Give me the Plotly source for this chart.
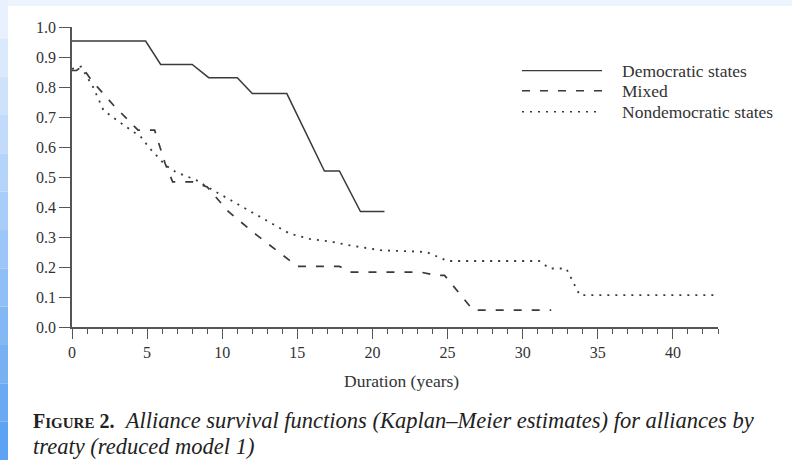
import plotly.graph_objects as go

# ---- data ----
dem_t = [0, 4.9, 5.9, 8.0, 9.1, 11.0, 12.0, 14.3, 16.8, 17.8, 19.2, 20.8]
dem_s = [0.953, 0.953, 0.875, 0.875, 0.831, 0.831, 0.778, 0.778, 0.52, 0.52, 0.385, 0.385]

mix_t = [0, 0.3, 0.65, 1.3, 2.75, 4.4, 5.5, 6.2, 6.7, 8.0, 9.0, 10.4, 12.3, 15.0, 17.8, 18.5, 23.2, 24.3, 24.8, 26.7, 31.9]
mix_s = [0.855, 0.855, 0.868, 0.822, 0.74, 0.656, 0.656, 0.545, 0.484, 0.484, 0.467, 0.385, 0.306, 0.202, 0.202, 0.183, 0.183, 0.172, 0.172, 0.056, 0.056]

non_t = [0, 0.6, 1.4, 2.1, 3.3, 4.6, 5.1, 6.2, 6.9, 8.3, 9.0, 11.0, 12.7, 14.5, 15.8, 17.4, 18.5, 20.5, 23.6, 25.0, 31.1, 31.8, 32.9, 33.8, 42.9]
non_s = [0.86, 0.868, 0.80, 0.722, 0.678, 0.633, 0.60, 0.54, 0.517, 0.489, 0.467, 0.411, 0.361, 0.311, 0.294, 0.283, 0.272, 0.256, 0.25, 0.22, 0.22, 0.195, 0.195, 0.106, 0.106]

series_names = ["Democratic states", "Mixed", "Nondemocratic states"]
x_ticks = [0, 5, 10, 15, 20, 25, 30, 35, 40]
y_ticks = [0.0, 0.1, 0.2, 0.3, 0.4, 0.5, 0.6, 0.7, 0.8, 0.9, 1.0]

# ---- styling ----
W, H = 792, 460
L, R, T, B = 72, 74, 27, 133
PW, PH = W - L - R, H - T - B
FONT = "Liberation Serif, Times New Roman, serif"
INK = "#333333"
AX = "#555555"

def px2paper(px, py):
    return (px - L) / PW, (H - B - py) / PH

fig = go.Figure()
styles = [dict(color="#3a3a3a", width=1.5, dash="solid"),
          dict(color="#3a3a3a", width=1.7, dash="8px,10px"),
          dict(color="#3a3a3a", width=1.8, dash="2px,6px")]
for name, t, s, st in zip(series_names, [dem_t, mix_t, non_t], [dem_s, mix_s, non_s], styles):
    fig.add_trace(go.Scatter(x=t, y=s, mode="lines", name=name, line=st, showlegend=False))

shapes = []
annotations = []

# background decoration: top light band and left blue gradient strip
x0p, _ = px2paper(0, 0)
x1p, _ = px2paper(W, 0)
_, ytop0 = px2paper(0, 6)
_, ytop1 = px2paper(0, 0)
shapes.append(dict(type="rect", xref="paper", yref="paper", x0=x0p, x1=x1p, y0=ytop0, y1=ytop1,
                   fillcolor="#edf4fd", line_width=0, layer="below"))
n = 12
top_c = (232, 241, 253)
bot_c = (94, 163, 243)
for i in range(n):
    f = i / (n - 1)
    c = tuple(int(top_c[k] + (bot_c[k] - top_c[k]) * f) for k in range(3))
    _, ya = px2paper(0, H * i / n)
    _, yb = px2paper(0, H * (i + 1) / n)
    xa, _ = px2paper(0, 0)
    xb, _ = px2paper(8, 0)
    shapes.append(dict(type="rect", xref="paper", yref="paper", x0=xa, x1=xb, y0=yb, y1=ya,
                       fillcolor="rgb(%d,%d,%d)" % c, line_width=0, layer="below"))

# custom legend (long line samples as in the reference)
leg_rows = [70.7, 90.7, 111.7]
for name, st, ry in zip(series_names, styles, leg_rows):
    xa, ya = px2paper(522, ry)
    xb, _ = px2paper(602, ry)
    shapes.append(dict(type="line", xref="paper", yref="paper", x0=xa, x1=xb, y0=ya, y1=ya,
                       line=dict(color=st["color"], width=st["width"] - 0.3, dash=st["dash"])))
    xt, yt = px2paper(620, ry)
    annotations.append(dict(xref="paper", yref="paper", x=xt, y=yt, xanchor="left", yanchor="middle",
                            text=name, showarrow=False, font=dict(family=FONT, size=17.5, color=INK)))

# axis title
xt, yt = px2paper(401, 381)
annotations.append(dict(xref="paper", yref="paper", x=xt, y=yt, xanchor="center", yanchor="middle",
                        text="Duration (years)", showarrow=False, font=dict(family=FONT, size=17.5, color=INK)))

# caption
xt, yt = px2paper(31, 420)
annotations.append(dict(xref="paper", yref="paper", x=xt, y=yt, xanchor="left", yanchor="middle",
                        text="<b><span style='font-size:20px'>F</span><span style='font-size:15px'>IGURE</span><span style='font-size:20px'> 2.</span></b>  <i>Alliance survival functions (Kaplan–Meier estimates) for alliances by</i>",
                        showarrow=False, font=dict(family=FONT, size=22.5, color="#222222")))
xt, yt = px2paper(31, 446)
annotations.append(dict(xref="paper", yref="paper", x=xt, y=yt, xanchor="left", yanchor="middle",
                        text="<i>treaty (reduced model 1)</i>",
                        showarrow=False, font=dict(family=FONT, size=22.5, color="#222222")))

fig.update_layout(
    width=W, height=H,
    margin=dict(l=L, r=R, t=T, b=B, pad=0),
    paper_bgcolor="white", plot_bgcolor="white",
    shapes=shapes, annotations=annotations,
    showlegend=False,
    font=dict(family=FONT, color=INK),
)
fig.update_xaxes(range=[0, 43], tickvals=x_ticks, ticks="outside", ticklen=10, tickwidth=1.3,
                 tickcolor=AX, showline=True, linecolor=AX, linewidth=1.5, showgrid=False,
                 zeroline=False, tickfont=dict(family=FONT, size=16, color=INK),
                 minor=dict(dtick=1, tick0=0, ticks="outside", ticklen=5, tickwidth=1.1, tickcolor=AX, showgrid=False))
fig.update_yaxes(range=[0, 1], tickvals=y_ticks, tickformat=".1f", ticks="outside", ticklen=11,
                 tickwidth=1.3, tickcolor=AX, showline=True, linecolor=AX, linewidth=1.5,
                 showgrid=False, zeroline=False, tickfont=dict(family=FONT, size=16, color=INK))

fig.write_html("out.html")
